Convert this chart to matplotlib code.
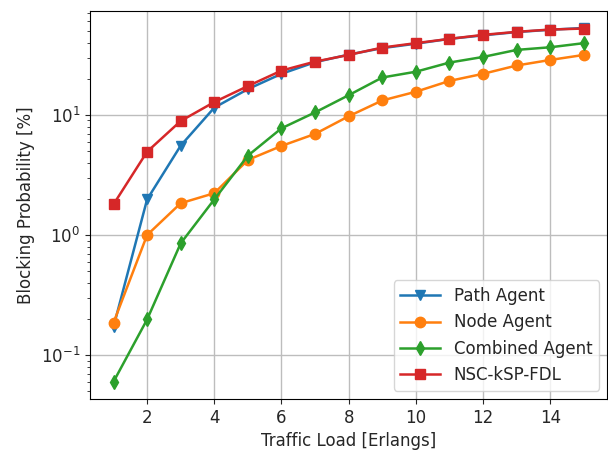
import matplotlib
matplotlib.use("Agg")
import matplotlib.pyplot as plt

load = [1, 2, 3, 4, 5, 6, 7, 8, 9, 10, 11, 12, 13, 14, 15]

path_agent = [0.172, 1.98, 5.55, 11.5, 16.4, 22.0, 27.5, 31.8, 36.0, 39.2,
              43.0, 46.0, 49.0, 51.2, 53.0]
node_agent = [0.186, 1.0, 1.84, 2.23, 4.22, 5.52, 6.95, 9.75, 13.2, 15.6,
              19.2, 22.0, 25.8, 28.7, 31.6]
combined_agent = [0.060, 0.198, 0.853, 1.98, 4.58, 7.74, 10.5, 14.6, 20.5, 22.9,
                  27.3, 30.4, 34.8, 36.6, 39.6]
nsc_ksp_fdl = [1.80, 4.94, 8.9, 12.8, 17.4, 23.4, 27.8, 31.6, 36.4, 39.6,
               43.0, 46.4, 49.2, 51.4, 52.4]

series = [
    ("Path Agent", path_agent, "v", "tab:blue"),
    ("Node Agent", node_agent, "o", "tab:orange"),
    ("Combined Agent", combined_agent, "d", "tab:green"),
    ("NSC-kSP-FDL", nsc_ksp_fdl, "s", "tab:red"),
]

text_color = "#262626"
plt.rcParams["text.color"] = text_color
plt.rcParams["axes.labelcolor"] = text_color
plt.rcParams["xtick.color"] = text_color
plt.rcParams["ytick.color"] = text_color

fig = plt.figure(figsize=(6.08, 4.51), dpi=100)
ax = fig.add_axes([0.148, 0.115, 0.851, 0.861])

for label, values, marker, color in series:
    ax.plot(load, values, marker=marker, markersize=7.5, linewidth=1.8,
            color=color, label=label)

ax.set_yscale("log")
ax.set_ylim(0.043, 73.6)
ax.set_xlim(0.3, 15.7)
ax.set_xticks([2, 4, 6, 8, 10, 12, 14])
ax.tick_params(labelsize=12)
ax.set_xlabel("Traffic Load [Erlangs]", fontsize=12)
ax.set_ylabel("Blocking Probability [%]", fontsize=12)
ax.grid(True, which="major", color="#bdbdbd", linewidth=1.0)
ax.legend(loc="lower right", fontsize=12, handlelength=2.4)

fig.savefig("out.png", dpi=100)
